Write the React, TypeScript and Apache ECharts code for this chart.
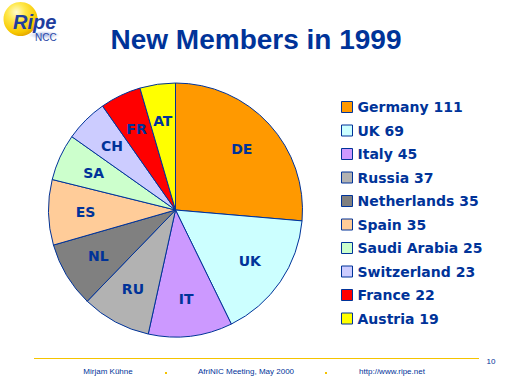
import React, { useEffect, useRef } from "react";
import * as echarts from "echarts";

const countries = ["Germany", "UK", "Italy", "Russia", "Netherlands", "Spain", "Saudi Arabia", "Switzerland", "France", "Austria"];
const codes = ["DE", "UK", "IT", "RU", "NL", "ES", "SA", "CH", "FR", "AT"];
const members = [111, 69, 45, 37, 35, 35, 25, 23, 22, 19];
const colors = ["#FF9900", "#CCFFFF", "#CC99FF", "#B2B2B2", "#808080", "#FFCC99", "#CCFFCC", "#CCCCFF", "#FF0000", "#FFFF00"];
const titleText = "New Members in 1999";
const footerAuthor = "Mirjam Kühne";
const footerEvent = "AfriNIC Meeting, May 2000";
const footerUrl = "http://www.ripe.net";
const pageNumber = "10";

const BLUE = "#003399";

export default function App() {
  const ref = useRef<HTMLDivElement>(null);
  useEffect(() => {
    if (!ref.current) return;
    const chart = echarts.init(ref.current, null, { renderer: "svg" });
    const cx = 175.5, cy = 210, R = 127;
    const option = {
      animation: false,
      backgroundColor: "#ffffff",
      title: {
        text: titleText,
        left: "center",
        top: 25,
        padding: 0,
        textStyle: { fontFamily: "Liberation Sans", fontWeight: "bold", fontSize: 28, color: BLUE },
      },
      legend: {
        orient: "vertical",
        left: 341,
        top: 100,
        padding: 0,
        itemWidth: 11,
        itemHeight: 11,
        itemGap: 9.5,
        icon: "rect",
        data: countries,
        selectedMode: false,
        itemStyle: { borderColor: BLUE, borderWidth: 1 },
        textStyle: { fontFamily: "DejaVu Sans", fontWeight: "bold", fontSize: 14, lineHeight: 14, color: BLUE },
        formatter: (name: string) => name + " " + members[countries.indexOf(name)],
      },
      series: [
        {
          type: "pie",
          center: [cx, cy],
          radius: [0, R],
          startAngle: 90,
          clockwise: true,
          label: { show: false },
          labelLine: { show: false },
          emphasis: { disabled: true },
          itemStyle: { borderColor: BLUE, borderWidth: 1 },
          data: countries.map((n, i) => ({ name: n, value: members[i], itemStyle: { color: colors[i] } })),
        },
        {
          type: "pie",
          center: [cx, cy],
          radius: [47, R],
          startAngle: 90,
          clockwise: true,
          silent: true,
          emphasis: { disabled: true },
          itemStyle: { color: "rgba(0,0,0,0)", borderWidth: 0 },
          labelLine: { show: false },
          label: {
            show: true,
            position: "inside",
            formatter: "{b}",
            fontFamily: "DejaVu Sans",
            fontWeight: "bold",
            fontSize: 14,
            color: BLUE,
          },
          data: codes.map((c, i) => ({ name: c, value: members[i] })),
        },
      ],
      graphic: [
        {
          type: "circle",
          shape: { cx: 20.5, cy: 19, r: 17 },
          style: {
            fill: new echarts.graphic.RadialGradient(0.38, 0.3, 0.75, [
              { offset: 0, color: "#FFFBD0" },
              { offset: 0.35, color: "#FFE84A" },
              { offset: 0.8, color: "#F7C800" },
              { offset: 1, color: "#E0A000" },
            ]),
          },
        },
        {
          type: "ellipse",
          shape: { cx: 44, cy: 35, rx: 16, ry: 4 },
          style: {
            fill: new echarts.graphic.RadialGradient(0.5, 0.5, 0.5, [
              { offset: 0, color: "rgba(60,90,190,0.45)" },
              { offset: 1, color: "rgba(60,90,190,0)" },
            ]),
          },
        },
        {
          type: "text",
          x: 13,
          y: 21.5,
          style: { text: "Ripe", font: "italic bold 20px Liberation Sans", lineHeight: 16, fill: "#1F3E9E", verticalAlign: "middle" },
        },
        {
          type: "text",
          x: 35,
          y: 37.5,
          style: { text: "NCC", font: "10px Liberation Sans", lineHeight: 9, fill: "#2A48A8", verticalAlign: "middle" },
        },
        {
          type: "line",
          shape: { x1: 34, y1: 358.5, x2: 479, y2: 358.5 },
          style: { stroke: "#F5C400", lineWidth: 1 },
        },
        {
          type: "text",
          x: 108,
          y: 371,
          style: { text: footerAuthor, font: "8px Liberation Sans", fill: BLUE, align: "center", verticalAlign: "middle" },
        },
        {
          type: "text",
          x: 246,
          y: 371,
          style: { text: footerEvent, font: "8px Liberation Sans", fill: BLUE, align: "center", verticalAlign: "middle" },
        },
        {
          type: "text",
          x: 392,
          y: 371,
          style: { text: footerUrl, font: "8px Liberation Sans", fill: BLUE, align: "center", verticalAlign: "middle" },
        },
        { type: "rect", shape: { x: 165, y: 372, width: 2, height: 2 }, style: { fill: "#F5C400" } },
        { type: "rect", shape: { x: 325, y: 372, width: 2, height: 2 }, style: { fill: "#F5C400" } },
        {
          type: "text",
          x: 491,
          y: 361.5,
          style: { text: pageNumber, font: "8px Liberation Sans", fill: BLUE, align: "center", verticalAlign: "middle" },
        },
      ],
    };
    chart.setOption(option as any);
    return () => chart.dispose();
  }, []);
  return <div ref={ref} style={{ position: "fixed", left: 0, top: 0, width: 512, height: 384 }} />;
}
